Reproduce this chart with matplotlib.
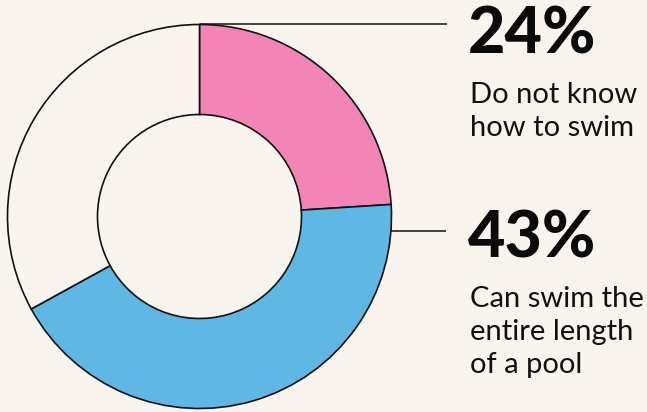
import matplotlib
matplotlib.use("Agg")
import matplotlib.pyplot as plt

# Data
categories = ["Do not know how to swim", "Can swim the entire length of a pool", "Other"]
values = [24, 43, 33]
pct_labels = ["24%", "43%"]
desc_lines = [["Do not know", "how to swim"], ["Can swim the", "entire length", "of a pool"]]

BG = "#F9F5EE"
colors = ["#F285B5", "#5FB7E3", BG]

W, H = 647, 412
fig = plt.figure(figsize=(W / 100, H / 100), dpi=100, facecolor=BG)
ax = fig.add_axes([0, 0, 1, 1])
ax.set_facecolor(BG)

cx, cy = 199.5, H - 216.5
R_out, R_in = 192, 102
ax.pie(values, colors=colors, startangle=90, counterclock=False,
       radius=R_out, center=(cx, cy),
       wedgeprops=dict(width=R_out - R_in, edgecolor="#111111", linewidth=1.2))

ax.set_xlim(0, W)
ax.set_ylim(0, H)
ax.set_aspect("equal")
ax.axis("off")

# leader lines
ax.plot([cx, 447], [H - 24, H - 24], color="#111111", lw=1.1, solid_capstyle="butt")
ax.plot([390, 446], [H - 231, H - 231], color="#111111", lw=1.1, solid_capstyle="butt")

fam = ["Lato", "DejaVu Sans"]
tx = 468
pct_base = [53, 258]
desc_base = [[103, 136], [307, 340, 373]]
for i, p in enumerate(pct_labels):
    ax.text(tx, H - pct_base[i], p, fontsize=46.5, fontweight="black", family=fam,
            color="#0a0a0a", va="baseline", ha="left")
    for line, b in zip(desc_lines[i], desc_base[i]):
        ax.text(tx + 2, H - b, line, fontsize=21, family=fam, color="#111111",
                va="baseline", ha="left")

fig.savefig("out.png", dpi=100, facecolor=BG)
